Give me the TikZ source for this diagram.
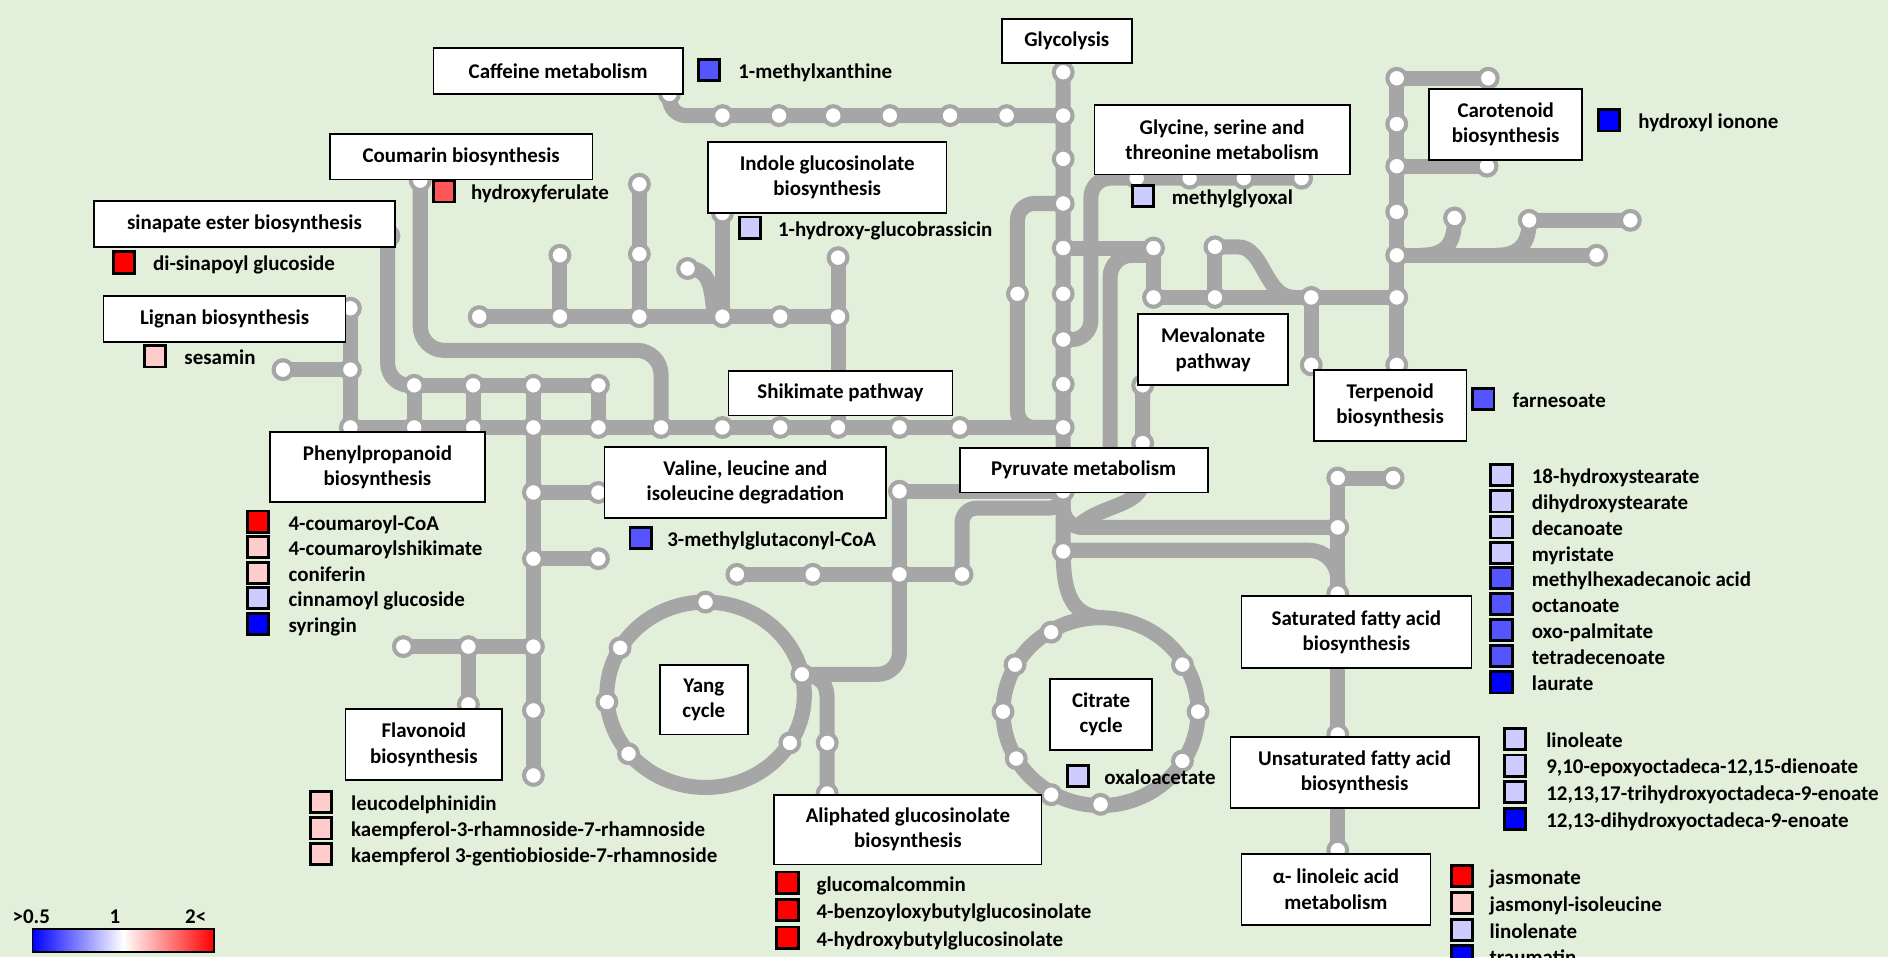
\documentclass[tikz,border=0pt]{standalone}
\usepackage{fontspec}
\setmainfont{Carlito}
\usetikzlibrary{positioning}

\definecolor{bgreen}{RGB}{226,239,218}
\definecolor{trackgray}{RGB}{166,166,166}
\definecolor{upred}{RGB}{255,0,0}
\definecolor{upmid}{RGB}{255,85,85}
\definecolor{uplight}{RGB}{255,204,204}
\definecolor{dnlight}{RGB}{204,204,255}
\definecolor{dnmid}{RGB}{85,85,255}
\definecolor{dnblue}{RGB}{0,0,255}

\newcommand{\mapfont}{\fontsize{17.4}{21}\selectfont\bfseries}

\tikzset{
  track/.style={draw=trackgray, line width=12.5pt},
  stop/.style={draw=trackgray, fill=white, line width=3.4pt},
  pathbox/.style={draw=black, line width=1.5pt, fill=white, align=center, inner sep=0pt, font=\mapfont},
  swatch/.style={draw=black, line width=2.4pt, minimum size=17.6pt, inner sep=0pt},
  metab/.style={inner sep=0pt, text height=14pt, text depth=0pt, font=\mapfont},
}

\begin{document}
\begin{tikzpicture}[x=1pt, y=-1pt]
\useasboundingbox (0,0) rectangle (1568,795);
\clip (0,0) rectangle (1568,795);
\fill[bgreen] (0,0) rectangle (1568,795);

% tracks
\draw[track, rounded corners=14pt] (556,70) -- (556,96) -- (883,96);
\draw[track] (883,55) -- (883,458) .. controls (883,498) and (893,510) .. (913,513);
\draw[track, rounded corners=14pt] (883,169) -- (845,169) -- (845,355) -- (883,355);
\draw[track, rounded corners=16pt] (1081,148) -- (906,148) -- (906,282) -- (883,282);
\draw[track] (883,206) -- (958,206) -- (958,247) -- (1160,247);
\draw[track, rounded corners=18pt] (952,212) -- (922,212) -- (922,400);
\draw[track] (1009,205) -- (1009,247);
\draw[track] (1009,205) -- (1028,205) .. controls (1050,205) and (1050,247) .. (1075,247);
\draw[track] (1089,247) -- (1089,303);
\draw[track] (1236,65) -- (1160,65) -- (1160,303);
\draw[track] (1160,138) -- (1235,138);
\draw[track] (1160,212) -- (1326,212);
\draw[track] (1180,212) .. controls (1203,212) and (1208,200) .. (1208,181);
\draw[track] (1243,212) .. controls (1264,212) and (1270,200) .. (1270,183) -- (1354,183);
\draw[track] (949,320) -- (949,398) .. controls (949,422) and (912,418) .. (892,440);
\draw[track, rounded corners=16pt] (883,415) -- (883,438) -- (1111,438);
\draw[track, rounded corners=24pt] (883,457) -- (1111,457) -- (1111,500);
\draw[track] (1157,397) -- (1111,397) -- (1111,720);
\draw[track, rounded corners=12pt] (883,400) -- (883,422) -- (799,422) -- (799,477);
\draw[track] (747,408) -- (883,408);
\draw[track, rounded corners=18pt] (747,408) -- (747,560) -- (666,560);
\draw[track] (612,477) -- (799,477);
\draw[track] (586,577) ellipse [x radius=82pt, y radius=77pt];
\draw[track] (666,560) .. controls (683,562) and (687,568) .. (687,582) -- (687,665);
\draw[track] (914,591) ellipse [x radius=81pt, y radius=78pt];

\draw[track] (291,355) -- (883,355);
\draw[track] (344,320) -- (497,320);
\foreach \x in {344,393,497} \draw[track] (\x,320) -- (\x,355);
\draw[track] (443,320) -- (443,644);
\draw[track, rounded corners=18pt] (322,196) -- (322,320) -- (344,320);
\draw[track] (291,256) -- (291,355);
\draw[track] (235,307) -- (291,307);
\draw[track, rounded corners=20pt] (349,150) -- (349,291) -- (549,291) -- (549,355);
\draw[track] (398,263) -- (696,263);
\draw[track] (465,212) -- (465,263);
\draw[track] (531,153) -- (531,263);
\draw[track] (600,177) -- (600,263);
\draw[track] (571,223) .. controls (588,223) and (591,235) .. (593,263);
\draw[track] (696,214) -- (696,355);
\draw[track] (443,409) -- (497,409);
\draw[track] (443,464) -- (497,464);
\draw[track] (335,537) -- (443,537);
\draw[track] (389,537) -- (389,590);

% stations
\foreach \x/\y in {556/78, 600/96, 647/96, 692/96, 739/96, 789/96, 836/96,
  883/60, 883/96, 883/132, 883/169, 883/206, 883/244, 883/282, 883/319, 883/355, 883/408, 883/458,
  845/244, 944/148, 988/148, 1033/148, 1081/148,
  958/206, 958/247, 1009/205, 1009/247, 1089/247, 1089/303, 1160/303,
  1160/65, 1160/103, 1160/138, 1160/176, 1160/212, 1160/247,
  1236/65, 1235/138, 1208/181, 1270/183, 1354/183, 1326/212,
  949/320, 949/368, 1111/397, 1157/397, 1111/438, 1111/493, 1111/610, 1111/706,
  747/408, 747/477, 799/477, 612/477, 675/477,
  586/500, 515/538, 504/583, 522/626, 666/560, 656/617, 687/617, 687/659,
  873/525, 843/552, 833/591, 844/630, 873/660, 914/668, 982/632, 995/591, 982/552,
  291/355, 344/355, 393/355, 443/355, 497/355, 549/355, 600/355, 648/355, 696/355, 747/355, 797/355,
  344/320, 393/320, 443/320, 497/320,
  443/409, 443/464, 443/537, 443/590, 443/644, 497/409, 497/464, 389/537, 335/537, 389/585,
  291/256, 291/307, 235/307, 323/196, 349/150,
  398/263, 465/263, 531/263, 600/263, 648/263, 696/263,
  465/212, 531/153, 531/211, 600/177, 571/223, 696/214}
  \draw[stop] (\x,\y) circle (7.8pt);

% pathways
\node[pathbox, minimum width=207pt, minimum height=38pt] (caffeine) at (463.5,59) {Caffeine metabolism};
\node[pathbox, minimum width=108pt, minimum height=37pt] (glycolysis) at (886,34) {Glycolysis};
\node[pathbox, minimum width=218pt, minimum height=38pt] (coumarin) at (383,130) {Coumarin biosynthesis};
\node[pathbox, minimum width=198pt, minimum height=59pt] (indole) at (687,147.5) {Indole glucosinolate\\biosynthesis};
\node[pathbox, minimum width=212pt, minimum height=58pt] (glycine) at (1015,116) {Glycine, serine and\\threonine metabolism};
\node[pathbox, minimum width=127pt, minimum height=59pt] (carotenoid) at (1250.5,103.5) {Carotenoid\\biosynthesis};
\node[pathbox, minimum width=250pt, minimum height=38pt] (sinapate) at (203,186) {sinapate ester biosynthesis};
\node[pathbox, minimum width=201pt, minimum height=38pt] (lignan) at (186.5,265) {Lignan biosynthesis};
\node[pathbox, minimum width=179pt, minimum height=58pt] (phenyl) at (313.5,388) {Phenylpropanoid\\biosynthesis};
\node[pathbox, minimum width=186pt, minimum height=37pt] (shikimate) at (698,326.5) {Shikimate pathway};
\node[pathbox, minimum width=234pt, minimum height=59pt] (valine) at (619,400.5) {Valine, leucine and\\isoleucine degradation};
\node[pathbox, minimum width=206pt, minimum height=37pt] (pyruvate) at (900,390.5) {Pyruvate metabolism};
\node[pathbox, minimum width=125pt, minimum height=59pt] (mevalonate) at (1007.5,290.5) {Mevalonate\\pathway};
\node[pathbox, minimum width=127pt, minimum height=59pt] (terpenoid) at (1154.5,336.5) {Terpenoid\\biosynthesis};
\node[pathbox, minimum width=73pt, minimum height=58pt] (yang) at (584.5,581) {Yang\\cycle};
\node[pathbox, minimum width=85pt, minimum height=59pt] (citrate) at (914.5,593.5) {Citrate\\cycle};
\node[pathbox, minimum width=222pt, minimum height=58pt] (aliphated) at (754,689) {Aliphated glucosinolate\\biosynthesis};
\node[pathbox, minimum width=130pt, minimum height=59pt] (flavonoid) at (352,618.5) {Flavonoid\\biosynthesis};
\node[pathbox, minimum width=191pt, minimum height=60pt] (satfa) at (1126.5,525) {Saturated fatty acid\\biosynthesis};
\node[pathbox, minimum width=206pt, minimum height=59pt] (unsatfa) at (1125,641.5) {Unsaturated fatty acid\\biosynthesis};
\node[pathbox, minimum width=157pt, minimum height=59pt] (linoleic) at (1109.5,738.5) {α- linoleic acid\\metabolism};

% metabolites
\node[swatch, fill=dnmid] (xanthsq) at (589,58) {};
\node[metab, right=14pt of xanthsq] (xanth) {1-methylxanthine};
\node[swatch, fill=upmid] (ferusq) at (369,159) {};
\node[metab, right=12pt of ferusq] (feru) {hydroxyferulate};
\node[swatch, fill=upred] (sinasq) at (103,218) {};
\node[metab, right=14pt of sinasq] (sina) {di-sinapoyl glucoside};
\node[swatch, fill=uplight] (sesasq) at (129,296) {};
\node[metab, right=14pt of sesasq] (sesa) {sesamin};
\node[swatch, fill=dnlight] (brassq) at (623,189) {};
\node[metab, right=13pt of brassq] (bras) {1-hydroxy-glucobrassicin};
\node[swatch, fill=dnlight] (glyoxsq) at (949,163) {};
\node[metab, right=14pt of glyoxsq] (glyox) {methylglyoxal};
\node[swatch, fill=dnblue] (iononesq) at (1336.5,100) {};
\node[metab, right=14pt of iononesq] (ionone) {hydroxyl ionone};
\node[swatch, fill=dnmid] (farnsq) at (1232,331.5) {};
\node[metab, right=14pt of farnsq] (farn) {farnesoate};
\node[swatch, fill=dnmid] (mgcsq) at (532,447) {};
\node[metab, right=12pt of mgcsq] (mgc) {3-methylglutaconyl-CoA};
\node[swatch, fill=dnlight] (oxalsq) at (895,644.5) {};
\node[metab, right=12pt of oxalsq] (oxal) {oxaloacetate};

\foreach \y/\c/\t [count=\i] in {433.2/upred/4-coumaroyl-CoA, 454.5/uplight/4-coumaroylshikimate,
  475.6/uplight/coniferin, 496.9/dnlight/cinnamoyl glucoside, 518.2/dnblue/syringin}{
  \node[swatch, fill=\c] (phsq\i) at (214.5,\y) {};
  \node[metab, right=15pt of phsq\i] (ph\i) {\t};
}
\foreach \y/\t [count=\i] in {666.3/leucodelphinidin, 688/kaempferol-3-rhamnoside-7-rhamnoside,
  709.5/kaempferol 3-gentiobioside-7-rhamnoside}{
  \node[swatch, fill=uplight] (flsq\i) at (266.4,\y) {};
  \node[metab, right=15pt of flsq\i] (fl\i) {\t};
}
\foreach \y/\t [count=\i] in {733/glucomalcommin, 756/4-benzoyloxybutylglucosinolate,
  778.7/4-hydroxybutylglucosinolate}{
  \node[swatch, fill=upred] (alsq\i) at (654,\y) {};
  \node[metab, right=14pt of alsq\i] (al\i) {\t};
}
\foreach \y/\c/\t [count=\i] in {394.5/dnlight/18-hydroxystearate, 416.4/dnlight/dihydroxystearate,
  438/dnlight/decanoate, 459/dnlight/myristate, 480.2/dnmid/methylhexadecanoic acid,
  501.6/dnmid/octanoate, 523.2/dnmid/oxo-palmitate, 544.8/dnmid/tetradecenoate, 566.7/dnblue/laurate}{
  \node[swatch, fill=\c] (sasq\i) at (1247,\y) {};
  \node[metab, right=15pt of sasq\i] (sa\i) {\t};
}
\foreach \y/\c/\t [count=\i] in {613.5/dnlight/linoleate, 635.8/dnlight/{9,10-epoxyoctadeca-12,15-dienoate},
  658/dnlight/{12,13,17-trihydroxyoctadeca-9-enoate}, 680/dnblue/{12,13-dihydroxyoctadeca-9-enoate}}{
  \node[swatch, fill=\c] (unsq\i) at (1258,\y) {};
  \node[metab, right=16pt of unsq\i] (un\i) {\t};
}
\foreach \y/\c/\t [count=\i] in {727.5/upred/jasmonate, 750/uplight/jasmonyl-isoleucine,
  772.4/dnlight/linolenate, 794/dnblue/traumatin}{
  \node[swatch, fill=\c] (lnsq\i) at (1214,\y) {};
  \node[metab, right=13pt of lnsq\i] (ln\i) {\t};
}

% legend
\draw[line width=1.5pt, left color=dnblue, right color=upred, middle color=white] (27,771.6) rectangle (177.5,790.4);
\node[metab, anchor=base] (lgLow) at (26,767) {>0.5};
\node[metab, anchor=base] (lgMid) at (95.5,767) {1};
\node[metab, anchor=base] (lgHigh) at (162.5,767) {2<};
\end{tikzpicture}
\end{document}
